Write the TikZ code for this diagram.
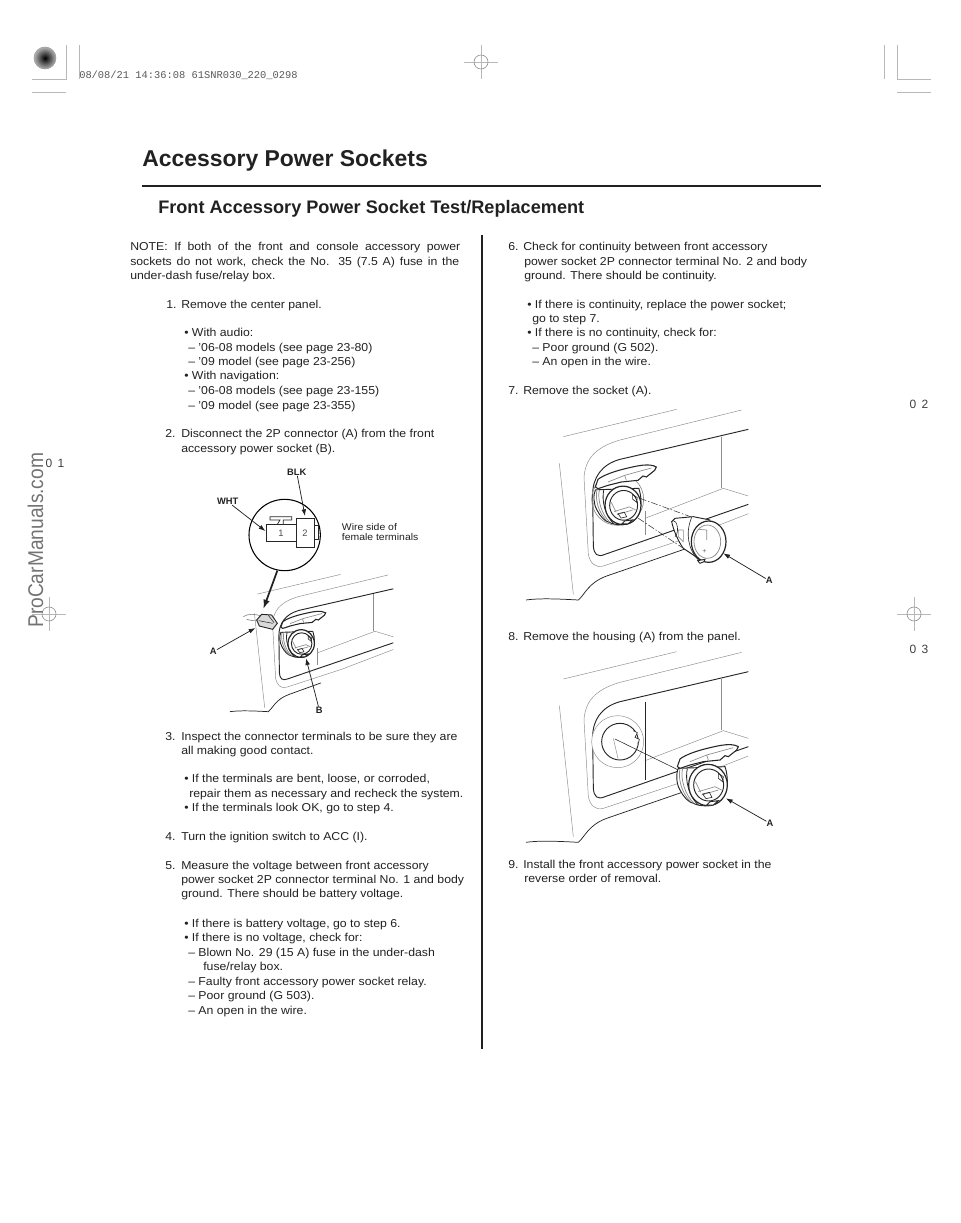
\documentclass[tikz,border=0pt]{standalone}
\usepackage{fontspec}
\setmainfont{Liberation Sans}
\newfontfamily\bodyfont[FakeStretch=1.07]{Liberation Sans}
\newfontfamily\wmfont[FakeStretch=0.9]{Liberation Sans}
\newfontfamily\stampfont{Liberation Mono}
\usetikzlibrary{arrows.meta}
\definecolor{ink}{gray}{0.13}
\definecolor{markgray}{gray}{0.72}
\newcounter{tl}
\tikzset{
  txt/.style={anchor=base west,inner sep=0pt,text=ink,font=\bodyfont\fontsize{8.6pt}{10pt}\selectfont},
  lbl/.style={inner sep=0pt,text=ink,font=\fontsize{7pt}{8pt}\selectfont\bfseries},
  thinl/.style={draw=black!45,line width=0.35pt},
  darkl/.style={draw=black!85,line width=0.7pt},
  leader/.style={draw=ink,line width=0.55pt,-{Latex[length=5pt,width=3.5pt]}},
  markl/.style={draw=markgray,line width=0.7pt},
}
\newcommand\Tl[3]{\stepcounter{tl}\node[txt] (t\arabic{tl}) at (#1,#2+4) {#3};}
\newcommand\Nl[5]{\Tl{#1}{#3}{#4}\Tl{#2}{#3}{#5}}
\newcommand\cropcross[3]{% name x y
  \coordinate (#1) at (#2,#3);
  \draw[markl] (#2-17,#3)--(#2+17,#3) (#2,#3-17)--(#2,#3+17);
  \draw[draw=markgray!80!black,line width=0.5pt] (#2,#3) circle (7);
}
\newcommand\panelart[1]{%
  \draw[thinl] (160,117)--(500,35);
  \draw[thinl] (695,37)--(330,127) .. controls (250,150) and (225,190) .. (222,240)
     -- (235,470) .. controls (240,495) and (255,512) .. (280,505) -- (505,430)--(715,348);
  \draw[darkl] (715,95)--(330,185) .. controls (275,200) and (248,240) .. (248,290)
     -- (250,445) .. controls (252,470) and (262,480) .. (285,470) -- (715,320);
  \draw[thinl] (148,197)--(190,590);
  \draw[thinl] (635,118)--(635,270);
  \draw[thinl] (405,362)--(640,272)--(715,295);
  \draw[darkl,line width=0.55pt] (48,607) .. controls (90,601) and (150,604) .. (205,607)
     .. controls (225,590) and (235,555) .. (290,535) -- (#1);
}
\newcommand\socketbody{%
  \draw[darkl,fill=white] (505,385) .. controls (498,400) and (498,430) .. (510,450)
     .. controls (520,470) and (535,487) .. (550,490) .. controls (570,500) and (600,500) .. (620,490)
     .. controls (640,480) and (652,450) .. (652,425) .. controls (652,410) and (650,395) .. (645,380) -- cycle;
  \draw[thinl,line width=0.55pt] (510,385) .. controls (503,415) and (515,460) .. (542,485);
  \draw[thinl,line width=0.55pt] (518,385) .. controls (510,415) and (525,465) .. (552,490);
  \draw[darkl,line width=0.6pt] (532,385) .. controls (524,420) and (537,470) .. (565,495);
  \draw[darkl,line width=0.9pt,fill=white] (594,435) ellipse (58 and 62);
  \draw[darkl,fill=white] (596,435) ellipse (45 and 48);
  \draw[thinl,line width=0.5pt] (565,455)--(615,440)--(635,450) (575,465)--(625,450) (556,425)--(572,457);
  \draw[darkl,line width=0.45pt] (578,462)--(598,457)--(606,472)--(588,476)--cycle;
  \draw[darkl,line width=0.45pt] (625,400)--(640,410)--(638,425)--(625,415)--cycle;
  \draw[darkl,fill=white] (590,495)--(600,485)--(625,482)--(610,495)--cycle;
}
\newcommand\socketflap{%
  \draw[darkl,line width=0.8pt,fill=white] (502,380) -- (510,357) .. controls (525,345) and (560,332) .. (600,323)
     .. controls (630,316) and (665,308) .. (685,320) -- (680,330) -- (655,350) -- (645,347) -- (630,360)
     -- (580,365) -- (540,375) -- (510,385) -- cycle;
  \draw[thinl,line width=0.5pt] (540,365) -- (590,345) -- (595,360) (590,345) -- (670,323);
}
\begin{document}
\begin{tikzpicture}[x=0.75pt,y=-0.75pt]
\useasboundingbox (0,0) rectangle (960,1223);
% crop marks
\shade[inner color=black,outer color=black!30] (45,58) circle (11);
\draw[draw=black!40,line width=0.4pt] (45,58) circle (11);
\draw[markl] (66,45)--(66,79)--(32,79) (32,92)--(66,92) (79,45)--(79,79);
\draw[markl] (884,45)--(884,79) (897,45)--(897,79)--(931,79) (897,92)--(931,92);
\cropcross{crossT}{481}{62}
\cropcross{crossL}{49}{614}
\cropcross{crossR}{914}{614}
\node[anchor=west,inner sep=0pt,text=black!65,font=\stampfont\fontsize{7.8pt}{9pt}\selectfont] (stamp) at (79,75) {08/08/21 14:36:08 61SNR030\_220\_0298};
\node[inner sep=0pt,text=black!75,font=\fontsize{9pt}{10pt}\selectfont] (n01) at (55,463) {0\hspace{4pt}1};
\node[inner sep=0pt,text=black!75,font=\fontsize{9pt}{10pt}\selectfont] (n02) at (919,404) {0\hspace{4pt}2};
\node[inner sep=0pt,text=black!75,font=\fontsize{9pt}{10pt}\selectfont] (n03) at (919,649) {0\hspace{4pt}3};
\node[rotate=90,anchor=base west,inner sep=0pt,text=black!55,font=\wmfont\fontsize{16pt}{18pt}\selectfont] (wm) at (43,628) {ProCarManuals.com};
% headings
\node[anchor=base west,inner sep=0pt,text=ink,font=\fontsize{17.2pt}{20pt}\selectfont\bfseries] (title) at (142,167) {Accessory Power Sockets};
\draw[draw=ink,line width=1.2pt] (142,186)--(821,186);
\node[anchor=base west,inner sep=0pt,text=ink,font=\fontsize{13.6pt}{15pt}\selectfont\bfseries] (sub) at (158,214) {Front Accessory Power Socket Test/Replacement};
\draw[draw=ink,line width=1.1pt] (482,235)--(482,1049);
% left column
\Tl{130}{247}{\makebox[247.5pt][s]{NOTE: If both of the front and console accessory power}}
\Tl{130}{261}{\makebox[246.8pt][s]{sockets do not work, check the No. 35 (7.5 A) fuse in the}}
\Tl{130}{275}{under-dash fuse/relay box.}
\Nl{166}{181}{304}{1.}{Remove the center panel.}
\Tl{184}{332}{• With audio:}
\Tl{188}{347}{– ’06-08 models (see page 23-80)}
\Tl{188}{361}{– ’09 model (see page 23-256)}
\Tl{184}{375}{• With navigation:}
\Tl{188}{390}{– ’06-08 models (see page 23-155)}
\Tl{188}{405}{– ’09 model (see page 23-355)}
\Nl{165}{181}{433}{2.}{Disconnect the 2P connector (A) from the front}
\Tl{181}{448}{accessory power socket (B).}
\Nl{165}{181}{736}{3.}{Inspect the connector terminals to be sure they are}
\Tl{181}{750}{all making good contact.}
\Tl{184}{778}{• If the terminals are bent, loose, or corroded,}
\Tl{189}{793}{repair them as necessary and recheck the system.}
\Tl{184}{807}{• If the terminals look OK, go to step 4.}
\Nl{165}{181}{836}{4.}{Turn the ignition switch to ACC (I).}
\Nl{165}{181}{865}{5.}{Measure the voltage between front accessory}
\Tl{181}{879}{power socket 2P connector terminal No. 1 and body}
\Tl{181}{893}{ground. There should be battery voltage.}
\Tl{184}{923}{• If there is battery voltage, go to step 6.}
\Tl{184}{937}{• If there is no voltage, check for:}
\Tl{188}{952}{– Blown No. 29 (15 A) fuse in the under-dash}
\Tl{203}{966}{fuse/relay box.}
\Tl{188}{981}{– Faulty front accessory power socket relay.}
\Tl{188}{995}{– Poor ground (G 503).}
\Tl{188}{1010}{– An open in the wire.}
% right column
\Nl{508}{523}{247}{6.}{Check for continuity between front accessory}
\Tl{524}{261}{power socket 2P connector terminal No. 2 and body}
\Tl{524}{275}{ground. There should be continuity.}
\Tl{527}{304}{• If there is continuity, replace the power socket;}
\Tl{532}{318}{go to step 7.}
\Tl{527}{332}{• If there is no continuity, check for:}
\Tl{532}{347}{– Poor ground (G 502).}
\Tl{532}{361}{– An open in the wire.}
\Nl{508}{523}{390}{7.}{Remove the socket (A).}
\Nl{508}{523}{636}{8.}{Remove the housing (A) from the panel.}
\Nl{508}{523}{864}{9.}{Install the front accessory power socket in the}
\Tl{524}{878}{reverse order of removal.}
% figure 1 (coordinates are 3x crop at 200,460)
\begin{scope}[shift={(200,460)},scale=1/3]
  \begin{scope}[shift={(54.4,318)},xscale=0.735,yscale=0.72]
    \panelart{420,487}
    \draw[thinl,line width=0.5pt] (405,340)--(405,412);
    \begin{scope}[shift={(339,323)},xscale=.93,yscale=.93,shift={(-594,-435)}]\socketbody\end{scope}
    \begin{scope}[shift={(-246,-125)}]\socketflap\end{scope}
  \end{scope}
  \draw[draw=black,line width=0.8pt] (254,225) circle (107);
  \draw[darkl,line width=0.55pt,fill=white] (198,193) rectangle (288,245);
  \draw[darkl,line width=0.55pt,fill=white] (288,175) rectangle (343,262);
  \draw[darkl,line width=0.55pt] (343,197)--(355,197)--(355,238)--(343,238);
  \draw[darkl,line width=0.55pt] (232,193)--(240,180)--(210,180)--(210,170)--(275,170)--(275,180)--(250,180)--(250,193);
  \node[inner sep=0pt,text=black!70,font=\fontsize{7pt}{8pt}\selectfont] (pin1) at (243,220) {1};
  \node[inner sep=0pt,text=black!70,font=\fontsize{7pt}{8pt}\selectfont] (pin2) at (315,220) {2};
  \node[lbl] (wht) at (83,125) {WHT};
  \node[lbl] (blk) at (290,37) {BLK};
  \coordinate (whttip) at (196,213);
  \coordinate (blktip) at (315,168);
  \draw[leader] (wht) -- (whttip);
  \draw[leader] (blk) -- (blktip);
  \node[inner sep=0pt,anchor=base west,text=ink,font=\bodyfont\fontsize{7.3pt}{8pt}\selectfont] (ws1) at (425,210) {Wire side of};
  \node[inner sep=0pt,anchor=base west,text=ink,font=\bodyfont\fontsize{7.3pt}{8pt}\selectfont] (ws2) at (425,240) {female terminals};
  \coordinate (zoomfrom) at (232,332);
  \coordinate (zoomto) at (190,447);
  \draw[draw=ink,line width=1.3pt,-{Latex[length=7pt,width=5pt]}] (zoomfrom)--(zoomto);
  % connector A
  \draw[thinl,line width=0.5pt] (130,470)..controls (145,460) and (165,462)..(185,468) (140,478)..controls (150,482) and (160,482)..(172,482);
  \draw[darkl,fill=black!15] (185,463)--(215,465)--(232,490)--(218,508)--(178,498)--(170,480)--cycle;
  \draw[darkl,line width=0.4pt] (176,482)--(218,490) (205,466)--(222,488);
  \node[lbl] (lA) at (40,575) {A};
  \coordinate (Atip) at (166,504);
  \draw[leader] (lA) -- (Atip);
  \node[lbl] (lB) at (358,750) {B};
  \coordinate (Btip) at (318,595);
  \draw[leader] (lB) -- (Btip);
\end{scope}
% figure 2
\begin{scope}[shift={(510,390)},scale=1/3]
  \begin{scope}[shift={(0,23)}]
    \panelart{580,435}
    \draw[thinl,line width=0.5pt] (405,340)--(405,412);
    \draw[thinl,line width=0.5pt] (323,305) circle (78);
    \begin{scope}[shift={(339,323)},xscale=.93,yscale=.93,shift={(-594,-435)}]\socketbody\end{scope}
    \begin{scope}[shift={(-246,-112)}]\socketflap\end{scope}
  \end{scope}
  \draw[draw=ink,line width=0.35pt,dash pattern=on 5pt off 1.5pt on 1pt off 1.5pt] (390,325)--(555,385);
  \draw[draw=ink,line width=0.35pt,dash pattern=on 5pt off 1.5pt on 1pt off 1.5pt] (385,385)--(520,475);
  % removed socket
  \draw[darkl,fill=white] (485,395)--(495,385)--(550,380)--(600,390)--(600,510)--(570,510)--(550,495)--(520,475)..controls (505,455) and (490,420) ..(485,395)--cycle;
  \draw[darkl,line width=0.45pt] (490,392)..controls (500,390) and (510,425) ..(495,440);
  \draw[thinl,line width=0.5pt] (505,420)--(520,420)--(520,455)--(505,440)--cycle;
  \draw[darkl,line width=0.45pt] (545,382)..controls (525,430) and (535,480) ..(565,510);
  \draw[darkl,line width=0.9pt,fill=white] (596,455) ellipse (52 and 62);
  \draw[thinl,line width=0.55pt] (592,455) ellipse (40 and 50);
  \draw[thinl,line width=0.5pt] (565,418)--(590,420)--(590,450) (578,482) -- (588,482) (583,477)--(583,487);
  \draw[darkl,fill=white] (563,512)--(570,520)--(582,515)--(585,508)--cycle;
  \node[lbl] (lA2) at (778,572) {A};
  \coordinate (A2tip) at (640,490);
  \draw[leader] (lA2) -- (A2tip);
\end{scope}
% figure 3
\begin{scope}[shift={(510,640)},scale=1/3]
  \panelart{580,435}
  \draw[darkl,line width=0.55pt] (405,185)--(405,420);
  \draw[thinl,fill=white] (323,305) circle (78);
  \draw[darkl] (330,305) circle (55);
  \draw[thinl] (310,295)--(325,360);
  \draw[darkl,line width=0.5pt,fill=white] (370,272)--(382,278)--(375,292)--(388,298)--(385,310);
  \coordinate (hs1) at (315,297);
  \coordinate (hs2) at (505,390);
  \draw[draw=ink,line width=0.4pt] (hs1)--(hs2);
  \socketbody
  \socketflap
  \node[lbl] (lA3) at (780,550) {A};
  \coordinate (A3tip) at (648,475);
  \draw[leader] (lA3) -- (A3tip);
\end{scope}
\end{tikzpicture}
\end{document}
